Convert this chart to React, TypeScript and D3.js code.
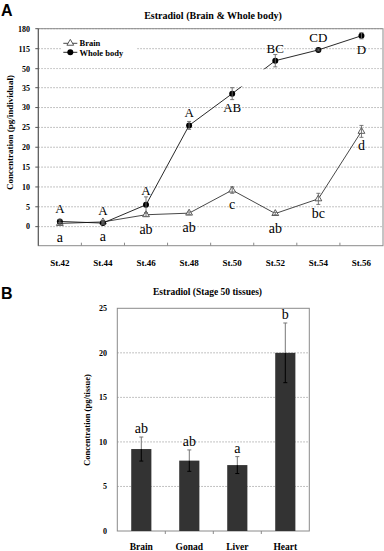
import React from "react";
import * as d3 from "d3";

// Panel A data
const stages = ["St.42", "St.44", "St.46", "St.48", "St.50", "St.52", "St.54", "St.56"];
const brainMean = [0.8, 1.2, 3.0, 3.4, 9.2, 3.3, 7.0, 24.0];
const brainErr = [0.3, 0.3, 0.4, 0.3, 0.8, 0.3, 1.4, 1.5];
const brainLetters = ["a", "a", "ab", "ab", "c", "ab", "bc", "d"];
const bodyMean = [1.3, 0.9, 5.5, 25.5, 33.5, 76, 111, 157];
const bodyErr = [0.4, 0.3, 2.0, 1.0, 1.5, 20, 3, 10];
const bodyLetters = ["A", "A", "A", "A", "AB", "BC", "CD", "D"];
const bodyLetterBelow = [false, false, false, false, true, false, false, true];
const lowTicks = [0, 5, 10, 15, 20, 25, 30, 35];
const highTicks = [50, 115, 180];

// Panel B data
const tissues = ["Brain", "Gonad", "Liver", "Heart"];
const tissueMean = [9.2, 7.9, 7.4, 20.0];
const tissueErr = [1.35, 1.2, 0.95, 3.35];
const tissueLetters = ["ab", "ab", "a", "b"];
const tissueTicks = [0, 5, 10, 15, 20, 25];

const serif = "'Liberation Serif', 'Times New Roman', serif";
const sans = "'Liberation Sans', Arial, sans-serif";
const gridColor = "#9a9a9a";
const frameColor = "#8a8a8a";

const PanelA = () => {
  const left = 38.3, right = 383, top = 28.7, bottom = 245.7;
  const x = d3.scalePoint<string>().domain(stages).range([left, right]).padding(0.5);
  // broken axis: 0..35 below, 50..180 above
  const y = d3.scaleLinear().domain([-4.8, 35, 50, 180]).range([bottom, 87.7, 68.7, top]);
  const step = x.step();

  const line = d3
    .line<number>()
    .x((_, i) => x(stages[i])!)
    .y((d) => y(d));

  const tri = d3.symbol().type(d3.symbolTriangle).size(20)()!;

  const errBar = (v: number, e: number, i: number, key: string) => {
    const cx = x(stages[i])!;
    const y1 = y(v + e), y2 = y(v - e);
    return (
      <g key={key} stroke="#6a6a6a" strokeWidth={0.9}>
        <line x1={cx} x2={cx} y1={y1} y2={y2} />
        <line x1={cx - 2} x2={cx + 2} y1={y1} y2={y1} />
        <line x1={cx - 2} x2={cx + 2} y1={y2} y2={y2} />
      </g>
    );
  };

  return (
    <g>
      <text x={1} y={15.5} fontFamily={sans} fontWeight="bold" fontSize={16}>A</text>
      <text x={213} y={19} textAnchor="middle" fontFamily={serif} fontWeight="bold" fontSize={10}>
        Estradiol (Brain &amp; Whole body)
      </text>

      {/* grid */}
      {[...lowTicks, ...highTicks].map((t) => (
        <line key={"g" + t} x1={left} x2={right} y1={y(t)} y2={y(t)} stroke={gridColor} strokeWidth={0.8} strokeDasharray="1.5,1.5" />
      ))}

      {/* lines */}
      <path d={line(brainMean)!} fill="none" stroke="#333" strokeWidth={0.9} />
      <path d={line(bodyMean)!} fill="none" stroke="#111" strokeWidth={0.9} />

      {/* break gap */}
      <rect x={left + 0.5} y={69.3} width={right - left - 1} height={17.2} fill="#fff" />

      {/* frame */}
      <rect x={left} y={top} width={right - left} height={bottom - top} fill="none" stroke={frameColor} strokeWidth={1} />
      <line x1={left} x2={left} y1={top} y2={bottom} stroke="#555" strokeWidth={1} />
      {d3.range(1, stages.length).map((i) => (
        <line key={"xt" + i} x1={left + i * step} x2={left + i * step} y1={bottom} y2={bottom - 3} stroke={frameColor} />
      ))}
      {[...lowTicks, ...highTicks].map((t) => (
        <line key={"yt" + t} x1={left - 3} x2={left} y1={y(t)} y2={y(t)} stroke="#555" />
      ))}

      {/* markers */}
      {brainMean.map((v, i) => (
        <path key={"bt" + i} d={tri} transform={`translate(${x(stages[i])},${y(v)})`} fill="#fff" stroke="#333" strokeWidth={0.8} />
      ))}
      {bodyMean.map((v, i) => (
        <circle key={"bc" + i} cx={x(stages[i])} cy={y(v)} r={3} fill="#000" />
      ))}
      {brainMean.map((v, i) => errBar(v, brainErr[i], i, "be" + i))}
      {bodyMean.map((v, i) => errBar(v, bodyErr[i], i, "we" + i))}

      {/* letters */}
      {bodyLetters.map((l, i) => {
        const v = bodyMean[i];
        const yy = bodyLetterBelow[i]
          ? y(v) + 18
          : Math.min(y(v) - 8, y(v + bodyErr[i]) - 2);
        return (
          <text key={"bl" + i} x={x(stages[i])} y={yy} textAnchor="middle" fontFamily={serif} fontSize={13}>{l}</text>
        );
      })}
      {brainLetters.map((l, i) => (
        <text key={"ll" + i} x={x(stages[i])} y={y(brainMean[i]) + 19} textAnchor="middle" fontFamily={serif} fontSize={14}>{l}</text>
      ))}

      {/* tick labels */}
      {[...lowTicks, ...highTicks].map((t) => (
        <text key={"tl" + t} x={30} y={y(t) + 2.8} textAnchor="end" fontFamily={serif} fontWeight="bold" fontSize={8}>{t}</text>
      ))}
      {stages.map((s) => (
        <text key={s} x={x(s)} y={266} textAnchor="middle" fontFamily={serif} fontWeight="bold" fontSize={9}>{s}</text>
      ))}
      <text transform="translate(13,132.5) rotate(-90)" textAnchor="middle" fontFamily={serif} fontWeight="bold" fontSize={9}>
        Concentration (pg/individual)
      </text>

      {/* legend */}
      <rect x={62} y={37} width={75} height={22} fill="#fff" />
      <line x1={63.3} x2={77.3} y1={43.3} y2={43.3} stroke="#333" strokeWidth={0.9} />
      <path d={tri} transform="translate(70.3,43.3)" fill="#fff" stroke="#333" strokeWidth={0.8} />
      <text x={79.5} y={46.3} fontFamily={serif} fontWeight="bold" fontSize={8.5}>Brain</text>
      <line x1={63.3} x2={77.3} y1={52.3} y2={52.3} stroke="#111" strokeWidth={0.9} />
      <circle cx={70.3} cy={52.3} r={3} fill="#000" />
      <text x={79.5} y={55.5} fontFamily={serif} fontWeight="bold" fontSize={8.5}>Whole body</text>
    </g>
  );
};

const PanelB = () => {
  const left = 117.3, right = 309.3, top = 308.3, bottom = 531;
  const x = d3.scaleBand<string>().domain(tissues).range([left, right]).paddingInner(0.58).paddingOuter(0.29);
  const y = d3.scaleLinear().domain([0, 25]).range([bottom, top]);
  const bw = x.bandwidth();

  return (
    <g>
      <text x={1} y={298.5} fontFamily={sans} fontWeight="bold" fontSize={16}>B</text>
      <text x={207.5} y={295} textAnchor="middle" fontFamily={serif} fontWeight="bold" fontSize={9.5}>
        Estradiol (Stage 50 tissues)
      </text>

      {tissueTicks.slice(1, -1).map((t) => (
        <line key={"g" + t} x1={left} x2={right} y1={y(t)} y2={y(t)} stroke={gridColor} strokeWidth={0.8} strokeDasharray="1.5,1.5" />
      ))}
      <rect x={left} y={top} width={right - left} height={bottom - top} fill="none" stroke={frameColor} strokeWidth={1} />
      {d3.range(1, tissues.length).map((i) => (
        <line key={"xt" + i} x1={left + i * x.step()} x2={left + i * x.step()} y1={bottom} y2={bottom + 3} stroke={frameColor} />
      ))}

      {tissues.map((t, i) => {
        const x0 = x(t)!;
        const cx = x0 + bw / 2;
        const v = tissueMean[i], e = tissueErr[i];
        return (
          <g key={t}>
            <rect x={x0} y={y(v)} width={bw} height={bottom - y(v)} fill="#333" />
            <line x1={cx} x2={cx} y1={y(v + e)} y2={y(v)} stroke="#777" strokeWidth={1} />
            <line x1={cx - 2} x2={cx + 2} y1={y(v + e)} y2={y(v + e)} stroke="#777" strokeWidth={1} />
            <line x1={cx} x2={cx} y1={y(v)} y2={y(v - e)} stroke="#000" strokeWidth={1} />
            <line x1={cx - 2} x2={cx + 2} y1={y(v - e)} y2={y(v - e)} stroke="#000" strokeWidth={1} />
            <text x={cx} y={y(v + e) - 4} textAnchor="middle" fontFamily={serif} fontSize={14}>{tissueLetters[i]}</text>
            <text x={cx} y={550} textAnchor="middle" fontFamily={serif} fontWeight="bold" fontSize={9.5}>{t}</text>
          </g>
        );
      })}

      {tissueTicks.map((t) => (
        <text key={"tl" + t} x={107} y={y(t) + 2.8} textAnchor="end" fontFamily={serif} fontWeight="bold" fontSize={8}>{t}</text>
      ))}
      <text transform="translate(90,420) rotate(-90)" textAnchor="middle" fontFamily={serif} fontWeight="bold" fontSize={8.5}>
        Concentration (pg/tissue)
      </text>
    </g>
  );
};

export default function App() {
  return (
    <svg
      width={384}
      height={551}
      style={{ position: "absolute", left: 0, top: 0, background: "#fff" }}
    >
      <PanelA />
      <PanelB />
    </svg>
  );
}
